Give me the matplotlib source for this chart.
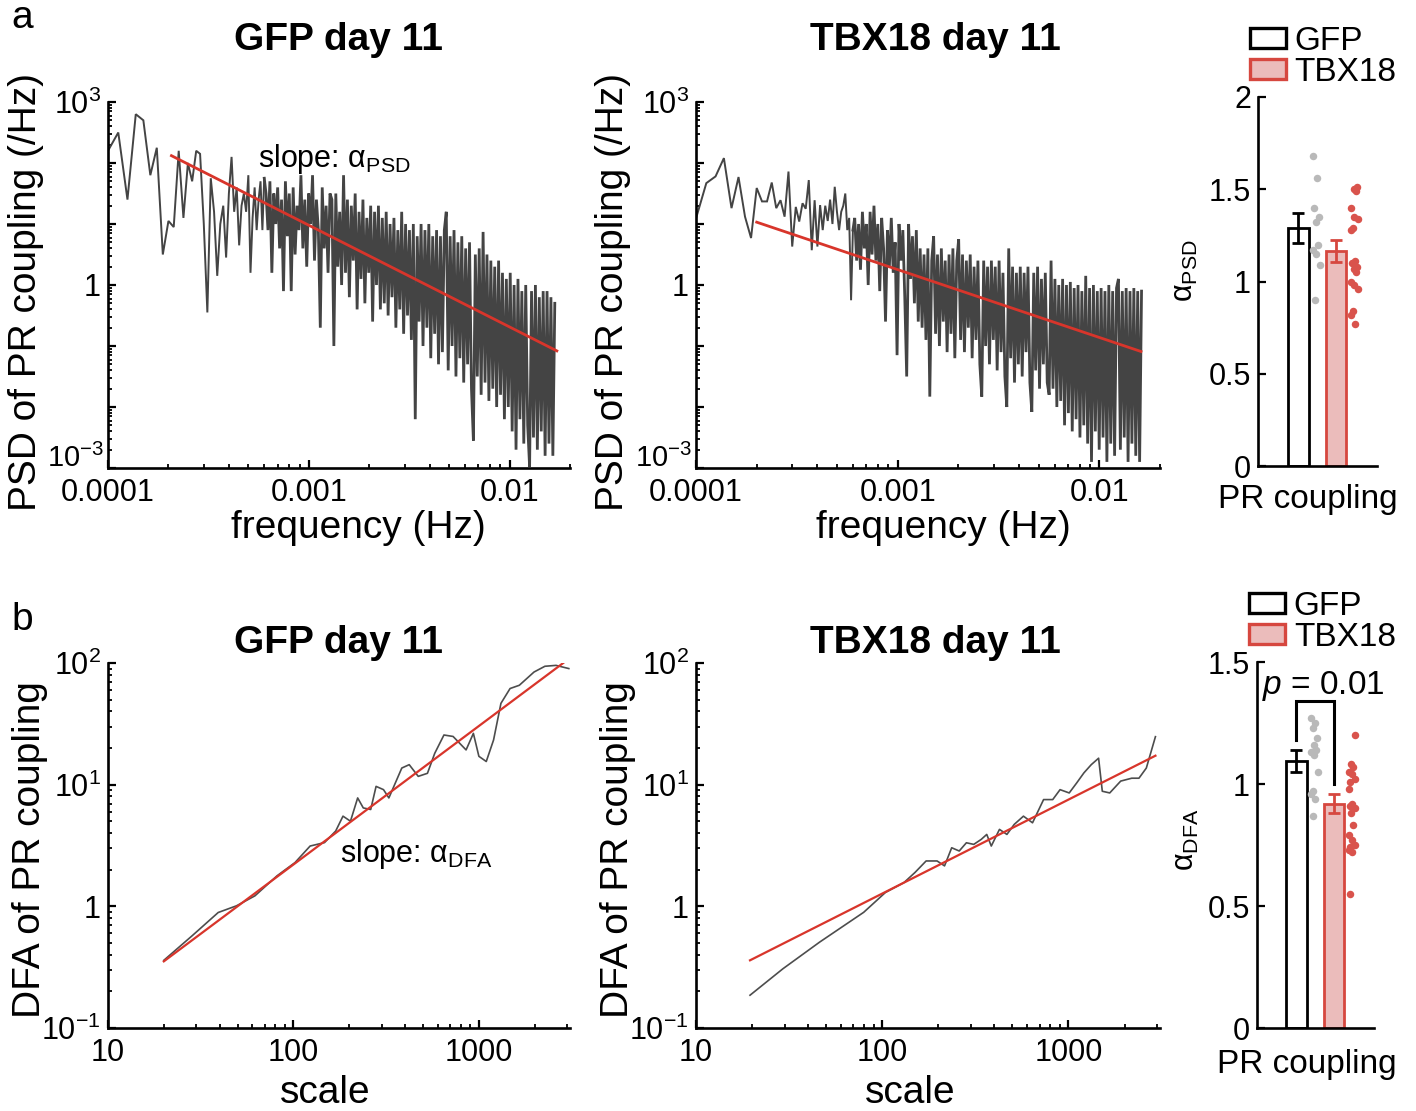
import numpy as np
import matplotlib
matplotlib.use("Agg")
import matplotlib.pyplot as plt
from matplotlib.ticker import FixedLocator, FixedFormatter, LogLocator, NullFormatter
from matplotlib.patches import Patch

plt.rcParams['font.family'] = ['Liberation Sans', 'DejaVu Sans']
plt.rcParams['mathtext.fontset'] = 'custom'
plt.rcParams['mathtext.rm'] = 'Liberation Sans'
plt.rcParams['mathtext.it'] = 'Liberation Sans:italic'
plt.rcParams['mathtext.bf'] = 'Liberation Sans:bold'

# ---------------- data ----------------
# PSD traces: log10(PSD) values. low part on linear grid (df = 1.25e-5 Hz), high part on log grid
psd_gfp_low = [2.2, 2.5, 1.4, 2.8, 2.7, 1.8, 2.25, 0.5, 1.05, 0.95, 2.2, 1.1, 2.0, 1.7, 2.2, 2.15,
               1.0, -0.45, 1.75, 1.2, 0.15, 1.0, 1.3, 0.45, 1.5, 2.1, 1.2, 1.6, 0.65, 1.3, 1.5, 1.2,
               1.8, 0.2, 1.1, 1.6, 0.9, 1.4, 1.7, 0.9, 1.75]
psd_gfp_high = [1.5, 0.9, 1.7, 0.2, 1.5, 1.0, 1.6, 0.6, 1.4, -0.1,
                1.7, 0.8, 1.5, -0.1, 1.6, 0.5, 1.3, 0.9, 1.8, 0.6,
                1.4, 0.3, 1.5, 1.0, 1.8, 0.4, 1.4, 0.9, -0.7, 1.6,
                0.6, 1.3, 0.2, 1.5, 1.4, -1.0, 1.5, 0.3, 1.2, 0.0,
                1.8, 0.2, 1.4, -0.2, 1.3, 0.4, 1.5, -0.4, 1.2, 0.1,
                1.4, -0.3, 1.1, 0.2, 1.3, -0.6, 1.2, 0.0, 1.3, -0.4,
                1.1, -0.3, 1.2, -0.5, 1.0, -0.2, 1.1, -0.7, 0.9, -0.4,
                1.2, -0.8, 1.0, -0.5, 0.9, -0.9, 1.0, -2.2, 0.8, -0.6,
                1.0, -1.0, 0.9, -0.7, 1.0, -1.2, 0.8, -0.8, 0.9, -1.3,
                0.8, -1.1, 0.9, 1.2, -1.4, 0.8, -1.0, 0.9, -1.5, 0.7,
                -1.2, 0.8, -1.6, 0.6, -1.3, 0.7, -1.7, -2.55, 0.5, -1.5,
                0.6, -1.8, 0.87, -1.6, 0.5, -1.9, 0.4, -1.7, 0.3, -2.0,
                0.4, -1.8, 0.2, -2.2, 0.1, -2.0, 0.2, -2.4, 0.0, -2.7,
                0.1, -2.2, -0.1, -2.6, 0.0, -2.3, -2.98, -0.1, -2.5, 0.0,
                -2.7, -0.2, -2.4, -0.1, -2.8, -0.1, -2.6, -0.2, -2.8, -0.3]
psd_tbx_low = [1.09, 1.67, 1.78, 2.08, 1.26, 1.77, 1.12, 0.77, 1.59, 1.37, 1.37, 1.68, 1.26, 1.39,
               1.12, 1.86, 0.63, 1.28, 1.04, 1.34, 1.25, 1.72, 0.57, 1.39, 0.63, 1.31, 0.9, 1.3,
               1.05, 1.4, 1.0, 1.61, 1.2, 0.9, 1.2, 1.3, 1.5, 0.9, 1.1, -0.25, 0.9]
psd_tbx_high = [1.1, 0.4, 1.0, 0.25, 1.2, 0.6, 1.0, 0.0, 1.2, 0.5,
                1.3, 0.4, 1.0, -0.1, 1.1, 0.6, -0.6, 0.9, 0.3, 1.1,
                0.2, 0.7, -1.15, 1.0, 0.4, 0.9, -0.2, -1.5, 1.0, 0.1,
                0.8, -0.3, 0.9, -0.6, 0.6, -0.7, 0.5, -0.9, 0.6, -1.83,
                0.4, 0.8, -0.8, 0.5, -1.0, 0.6, -0.6, 0.4, -1.1, 0.5,
                -0.8, 0.6, -1.2, 0.4, 0.75, -0.9, 0.5, -1.1, 0.4, -0.7,
                0.5, -1.2, 0.3, -0.9, 0.4, -1.3, -1.83, 0.4, -1.0, 0.3,
                -1.3, 0.4, -0.9, 0.3, -1.4, 0.4, -1.1, 0.2, -1.5, -2.0,
                0.6, -1.2, 0.3, -1.6, 0.2, -1.3, 0.3, -1.5, 0.2, -1.1,
                0.3, -1.6, -2.08, 0.2, -1.4, 0.3, -1.7, 0.1, -1.3, 0.2,
                -1.6, -1.8, 0.4, -1.7, 0.1, -2.0, 0.0, -1.9, 0.1, -2.3,
                0.0, -2.1, 0.05, -2.4, -0.05, -2.2, 0.0, -2.5, -0.1, -2.3,
                0.15, -2.6, -0.05, -2.9, 0.0, -2.4, -0.1, -2.7, -0.05, -2.5,
                -0.1, -2.9, 0.0, -2.6, -0.1, -2.8, -0.05, 0.1, -2.7, -0.1,
                -2.5, -0.05, -2.9, -0.1, -2.6, -0.05, -2.8, -0.1, -2.9, -0.1]
psd_gfp_fmax = 0.0168
psd_tbx_fmax = 0.0162

# power-law fits (endpoints in data units)
fit_psd_gfp_f = [2.07e-4, 0.0172]
fit_psd_gfp_p = [10 ** 2.12, 10 ** -1.08]
fit_psd_tbx_f = [2.0e-4, 0.0161]
fit_psd_tbx_p = [10 ** 1.03, 10 ** -1.09]

# DFA traces
dfa_gfp_scale = [20, 28.5, 39.3, 49.3, 62, 81.5, 102, 123, 147, 169, 185, 203, 222, 238, 261, 279,
                 306, 327, 384, 421, 471, 528, 578, 648, 726, 853, 934, 1000, 1096, 1200, 1315,
                 1473, 1652, 1983, 2270, 2606, 3055]
dfa_gfp_F = [0.36, 0.575, 0.89, 1.01, 1.22, 1.78, 2.29, 3.13, 3.34, 4.16, 5.51, 5.01, 7.78, 6.44,
             6.25, 9.68, 9.1, 7.78, 13.7, 14.6, 11.7, 12.4, 18.1, 25.6, 24.9, 19.3, 26.4, 17.1,
             15.5, 23.3, 46.6, 61.7, 65.6, 84.3, 94, 95.6, 90]
dfa_tbx_scale = [19.5, 29.3, 46.1, 66.3, 79.5, 91.1, 104, 131, 150, 172, 197, 216, 236, 259, 283,
                 310, 340, 364, 385, 426, 467, 511, 573, 641, 735, 823, 901, 1009, 1105, 1210,
                 1325, 1451, 1519, 1665, 1907, 2185, 2390, 2618, 2930]
dfa_tbx_F = [0.186, 0.307, 0.508, 0.74, 0.893, 1.08, 1.30, 1.57, 1.90, 2.36, 2.36, 2.15, 3.03,
             2.85, 3.33, 3.23, 3.55, 3.90, 3.13, 4.29, 3.90, 4.71, 5.51, 4.86, 7.54, 7.54, 9.10,
             8.55, 10.3, 12.5, 14.6, 16.5, 8.83, 8.55, 10.7, 11.3, 11.3, 13.7, 24.8]
fit_dfa_gfp_s = [20, 2850]
fit_dfa_gfp_F = [0.353, 100]
fit_dfa_tbx_s = [19.5, 2930]
fit_dfa_tbx_F = [0.36, 17.3]

# bar summaries
groups = ['GFP', 'TBX18']
psd_means = [1.29, 1.165]
psd_sems = [0.08, 0.058]
dfa_means = [1.095, 0.92]
dfa_sems = [0.044, 0.04]
psd_gfp_dots = [1.68, 1.56, 1.40, 1.35, 1.32, 1.20, 1.17, 1.15, 1.09, 0.90]
psd_tbx_dots = [1.51, 1.50, 1.49, 1.40, 1.35, 1.34, 1.29, 1.28, 1.11, 1.10, 1.08, 1.07, 1.05,
                1.00, 0.98, 0.96, 0.84, 0.82, 0.77]
dfa_gfp_dots = [1.27, 1.25, 1.23, 1.19, 1.16, 1.14, 1.13, 1.12, 1.05, 0.97, 0.96, 0.94, 0.87]
dfa_tbx_dots = [1.20, 1.08, 1.07, 1.05, 1.04, 1.02, 1.01, 0.98, 0.92, 0.91, 0.90, 0.88, 0.83,
                0.79, 0.77, 0.75, 0.74, 0.73, 0.72, 0.55]
p_text = '0.01'

# ---------------- style ----------------
TRACE = '#444444'
DFATRACE = '#4d4d4d'
RED = '#d8352b'
DOTRED = '#d9534c'
BARRED = '#d6473f'
PINK = '#ebbcbb'
GRAYDOT = '#b9b9b9'
SPW = 1.9
TICKFS = 22
LABFS = 28

W, H = 1416, 1111
fig = plt.figure(figsize=(W / 100, H / 100), dpi=100)


def axpx(l, t, r, b):
    return fig.add_axes([l / W, 1 - b / H, (r - l) / W, (b - t) / H])


def style_spines(ax):
    for s in ['top', 'right']:
        ax.spines[s].set_visible(False)
    for s in ['left', 'bottom']:
        ax.spines[s].set_linewidth(SPW)
    ax.tick_params(which='major', direction='in', length=5.5, width=1.6, labelsize=TICKFS, pad=5)
    ax.tick_params(which='minor', direction='in', length=3, width=1.3)
    ax.tick_params(axis='x', which='major', pad=7)


def log_axis(ax, xlim, ylim, xt, xl, yt, yl):
    ax.set_xscale('log')
    ax.set_yscale('log')
    ax.set_xlim(*xlim)
    ax.set_ylim(*ylim)
    ax.xaxis.set_major_locator(FixedLocator(xt))
    ax.xaxis.set_major_formatter(FixedFormatter(xl))
    ax.xaxis.set_minor_locator(LogLocator(base=10, subs=np.arange(2, 10)))
    ax.xaxis.set_minor_formatter(NullFormatter())
    ax.yaxis.set_major_locator(FixedLocator(yt))
    ax.yaxis.set_major_formatter(FixedFormatter(yl))
    ax.yaxis.set_minor_locator(LogLocator(base=10, subs=np.arange(2, 10), numticks=20))
    ax.yaxis.set_minor_formatter(NullFormatter())
    style_spines(ax)


def psd_panel(ax, low, high, fmax, fitf, fitp, xlabx):
    f_low = 1.25e-5 * np.arange(8, 8 + len(low))
    f_high = np.geomspace(1.25e-5 * (8 + len(low)), fmax, len(high))
    p_low = 10 ** np.array(low)
    p_high = 10 ** np.array(high)
    # sparse low-frequency part drawn thin, dense high-frequency part drawn heavier so it fills
    ax.plot(f_low, p_low, color=TRACE, lw=1.4, solid_joinstyle='miter')
    ax.plot(np.concatenate([f_low[-1:], f_high]), np.concatenate([p_low[-1:], p_high]),
            color=TRACE, lw=2.0, solid_joinstyle='miter')
    ax.plot(fitf, fitp, color=RED, lw=2.0)
    log_axis(ax, (1e-4, 0.02), (1e-3, 1e3), [1e-4, 1e-3, 1e-2], ['0.0001', '0.001', '0.01'],
             [1e-3, 1e-2, 1e-1, 1, 10, 100, 1e3],
             ['', '', '', '1', '', '', r'$10^{3}$'])
    # bottom label sits a little above its tick, as in the original
    ax.annotate(r'$10^{-3}$', xy=(0, 1e-3), xycoords=('axes fraction', 'data'),
                xytext=(-3, 7), textcoords='offset points', ha='right', va='center',
                fontsize=21)
    ax.set_xlabel('frequency (Hz)', fontsize=LABFS, va='center')
    ax.xaxis.set_label_coords(xlabx, -0.164)
    ax.set_ylabel('PSD of PR coupling (/Hz)', fontsize=LABFS, va='center')
    ax.yaxis.set_label_coords(-0.178, 0.48)


def dfa_panel(ax, s, F, fits, fitF, xlabx):
    ax.plot(s, F, color=DFATRACE, lw=1.2)
    ax.plot(fits, fitF, color=RED, lw=1.6)
    log_axis(ax, (10, 3100), (0.1, 100), [10, 100, 1000], ['10', '100', '1000'],
             [0.1, 1, 10, 100], [r'$10^{-1}$', '1', r'$10^{1}$', r'$10^{2}$'])
    ax.set_xlabel('scale', fontsize=LABFS, va='center')
    ax.xaxis.set_label_coords(xlabx, -0.178)
    ax.set_ylabel('DFA of PR coupling', fontsize=LABFS, va='center')
    ax.yaxis.set_label_coords(-0.168, 0.49)


def bar_panel(ax, means, sems, gdots, rdots, ylim, yt, sub):
    pos = [1, 2]
    ax.bar(pos[0], means[0], width=0.55, facecolor='white', edgecolor='black', lw=2.0, zorder=2)
    ax.bar(pos[1], means[1], width=0.55, facecolor=PINK, edgecolor=BARRED, lw=2.0, zorder=2)
    ax.errorbar(pos[0], means[0], yerr=sems[0], color='black', lw=2.0, capsize=4.5, capthick=2.0, zorder=3)
    ax.errorbar(pos[1], means[1], yerr=sems[1], color=BARRED, lw=2.0, capsize=4.5, capthick=2.0, zorder=3)
    jit = [0.0, 0.1, 0.03, 0.16, 0.06, 0.12, 0.0, 0.08, 0.18, 0.04]
    gx = [pos[0] + 0.40 + jit[i % len(jit)] for i in range(len(gdots))]
    rx = [pos[1] + 0.40 + jit[(i + 3) % len(jit)] for i in range(len(rdots))]
    ax.plot(gx, gdots, 'o', color=GRAYDOT, ms=5.4, mec='none', zorder=4)
    ax.plot(rx, rdots, 'o', color=DOTRED, ms=5.4, mec='none', zorder=4)
    ax.set_xlim(-0.06, 3.08)
    ax.set_ylim(*ylim)
    ax.set_yticks(yt)
    ax.set_yticklabels([('%g' % v) for v in yt])
    ax.set_xticks(pos)
    ax.set_xticklabels(['', ''])
    style_spines(ax)
    ax.set_xlabel('PR coupling', fontsize=24, va='center')
    ax.set_ylabel('α$_{\\mathrm{' + sub + '}}$', fontsize=22, va='center')
    ax.legend(handles=[Patch(facecolor='white', edgecolor='black', lw=2.4, label=groups[0]),
                       Patch(facecolor=PINK, edgecolor=BARRED, lw=2.4, label=groups[1])],
              loc='lower left', frameon=False, fontsize=24, handlelength=1.1,
              handleheight=0.55, handletextpad=0.25, labelspacing=0.0,
              borderpad=0, borderaxespad=0, bbox_to_anchor=(-0.07, 1.025))
    return pos


# ---------------- row a ----------------
a1 = axpx(108, 102, 570, 468)
psd_panel(a1, psd_gfp_low, psd_gfp_high, psd_gfp_fmax, fit_psd_gfp_f, fit_psd_gfp_p, 0.541)
a1.text(0.325, 0.822, 'slope: α$_{\\mathrm{PSD}}$', transform=a1.transAxes, fontsize=22,
        ha='left', va='baseline')

a2 = axpx(696, 102, 1160, 468)
psd_panel(a2, psd_tbx_low, psd_tbx_high, psd_tbx_fmax, fit_psd_tbx_f, fit_psd_tbx_p, 0.534)

a3 = axpx(1258, 97, 1377, 466)
bar_panel(a3, psd_means, psd_sems, psd_gfp_dots, psd_tbx_dots, (0, 2), [0, 0.5, 1, 1.5, 2], 'PSD')
a3.xaxis.set_label_coords(0.42, -0.092)
a3.yaxis.set_label_coords(-0.61, 0.53)

# ---------------- row b ----------------
b1 = axpx(108, 663, 570, 1028)
dfa_panel(b1, dfa_gfp_scale, dfa_gfp_F, fit_dfa_gfp_s, fit_dfa_gfp_F, 0.47)
b1.text(0.502, 0.455, 'slope: α$_{\\mathrm{DFA}}$', transform=b1.transAxes, fontsize=22,
        ha='left', va='baseline')

b2 = axpx(696, 663, 1160, 1028)
dfa_panel(b2, dfa_tbx_scale, dfa_tbx_F, fit_dfa_tbx_s, fit_dfa_tbx_F, 0.461)

b3 = axpx(1257, 662, 1374, 1028)
pos = bar_panel(b3, dfa_means, dfa_sems, dfa_gfp_dots, dfa_tbx_dots, (0, 1.5), [0, 0.5, 1, 1.5], 'DFA')
b3.xaxis.set_label_coords(0.43, -0.101)
b3.yaxis.set_label_coords(-0.61, 0.514)
b3.plot([pos[0], pos[0], pos[1], pos[1]], [1.18, 1.34, 1.34, 1.0], color='black', lw=2.2,
        solid_joinstyle='miter', zorder=5)
b3.text(0.08, 1.40, r'$\it{p}$ = ' + p_text, fontsize=24, ha='left', va='center', zorder=6)

# ---------------- titles & panel letters ----------------
fig.text(339 / W, 1 - 40 / H, 'GFP day 11', fontsize=28, fontweight='bold', ha='center', va='center')
fig.text(935 / W, 1 - 40 / H, 'TBX18 day 11', fontsize=28, fontweight='bold', ha='center', va='center')
fig.text(339 / W, 1 - 643 / H, 'GFP day 11', fontsize=28, fontweight='bold', ha='center', va='center')
fig.text(935 / W, 1 - 643 / H, 'TBX18 day 11', fontsize=28, fontweight='bold', ha='center', va='center')
fig.text(22 / W, 1 - 18 / H, 'a', fontsize=28, ha='center', va='center')
fig.text(22 / W, 1 - 620 / H, 'b', fontsize=28, ha='center', va='center')

fig.savefig('out.png', dpi=100)
